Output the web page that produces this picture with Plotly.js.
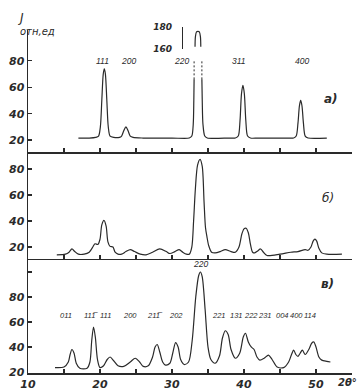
<!DOCTYPE html>
<html>
<head>
<meta charset="utf-8">
<script src="https://cdn.plot.ly/plotly-3.0.1.min.js"></script>
<style>html,body{margin:0;padding:0;background:#fff;}</style>
</head>
<body>
<div id="chart" style="width:364px;height:390px;"></div>
<script>
// ---- Panel a) ----
const aX = [17.0,18.5,19.4,19.8,20.05,20.25,20.45,20.6,20.75,20.95,21.15,21.4,21.9,22.7,23.0,23.3,23.6,23.9,24.2,24.6,26.0,30.0,32.4,32.75,32.95,33.03,33.07,null,34.15,34.2,34.3,34.55,34.9,38.0,38.8,39.2,39.45,39.65,39.85,40.05,40.25,40.5,40.9,42.0,46.5,46.9,47.25,47.5,47.7,47.87,48.05,48.25,48.5,48.9,51.5];
const aY = [21.5,21.5,22,23,30,50,70,74,70,50,30,23,22,22,23,27,30,27,23,22,21.5,21.5,21.5,23,32,50,66,null,66,50,32,23,21.5,21.5,21.5,23,35,55,61.5,55,35,23,21.5,21.5,21.5,21.5,23,33,46,50,46,33,23,21.5,21.5];
const aBreakX = [33.07,33.07,null,34.15,34.15];
const aBreakY = [66,80,null,66,80];
const aTopX = [33.2,33.25,33.4,33.6,33.8,33.95,34.0];
const aTopY = [162,171,175.5,176,175.5,171,162];
const aLabels = ["111","200","220","311","400"];
const aLabelX = [20.3,23.9,31.3,39.3,48.1];
const aLabelY = [80,80,80,80,80];

// ---- Panel б) ----
const bX = [14.0,15.2,15.7,16.1,16.5,17.0,17.8,18.5,19.0,19.3,19.7,20.0,20.25,20.55,20.85,21.1,21.4,21.8,22.1,22.5,23.0,23.6,24.2,24.8,25.6,26.4,27.3,28.3,29.2,29.7,30.4,31.0,31.5,32.0,32.4,32.75,33.0,33.25,33.55,33.9,34.2,34.45,34.65,34.85,35.1,35.5,36.0,36.7,37.4,38.2,38.8,39.3,39.7,40.0,40.3,40.6,40.9,41.2,41.5,41.9,42.3,42.7,43.2,45.0,46.5,47.5,48.5,48.9,49.3,49.6,49.85,50.1,50.4,50.8,51.5,53.6];
const bY = [14,14.5,16,18.5,16.5,14.5,14.5,16,20,22.5,22,26,37,40.5,36,24,20.5,20,16,14.5,14.5,16.5,18,16.5,14.5,14,16,18.5,16.5,15,16.5,18,16,14.5,14.5,20,40,65,83,87.5,82,55,35,28,21,16,15.5,16.5,18,16.5,16,20,30,34,34.5,31,22,16,15.5,17,18.5,16,13.5,14.5,16,16.5,18,17.5,20,24.5,26,24.5,19,15.5,14.5,14.5];

// ---- Panel в) ----
const cX = [13.75,15.0,15.6,15.85,16.1,16.4,16.7,17.2,18.2,18.6,18.85,19.1,19.35,19.65,20.0,20.5,21.0,21.4,21.9,22.5,23.3,24.2,24.9,25.5,26.0,26.7,27.3,27.65,27.95,28.3,28.7,29.1,29.7,30.1,30.5,30.85,31.2,31.7,32.3,32.8,33.3,33.7,33.95,34.2,34.6,35.0,35.4,36.0,36.6,37.0,37.4,37.8,38.2,38.8,39.4,39.9,40.2,40.6,41.0,41.4,41.8,42.2,42.8,43.4,43.9,44.6,45.5,46.2,46.6,46.9,47.2,47.5,47.8,48.1,48.5,49.0,49.4,49.7,50.0,50.4,50.8,51.5,52.0];
const cY = [23.5,24,28,34,38,35,27,23,23,28,45,56,48,30,23.5,25,30,32,29,25,24.5,28,31,28,24.5,25,32,40,42,36,28,25.5,27,35,43.5,40,30,26,28,45,80,97,100,96,70,40,30,27,33,47,53,50,38,31,35,48,51,44,40,38,32,29.5,31,33.5,30,24,23.5,28,34,37.5,34,32.5,35,37.5,34,38,43,44,40,32,29.5,28.5,28];
const cLabels = ["011","111\u0305","111","200","211\u0305","202","220","221","131","222","231","004","400","114"];
const cLabelX = [15.3,18.8,20.8,24.2,27.6,30.6,33.9,36.5,39.0,41.0,42.9,45.3,47.3,49.2];
const cLabelY = [65,65,65,65,65,65,106,65,65,65,65,65,65,65];

const xTicks = [10,15,20,25,30,35,40,45,50];
const xTickText = ["10","","20","","30","","40","","50"];
const yTicks = [20,40,60,80];
const yTicksC = [20,40,60,80,100];
const yTickTextC = ["20","40","60","80",""];

const INK = "#2a2a2a";
const lineStyle = {color: INK, width: 1.2, shape: "spline", smoothing: 0.8};

const traces = [
  {x: aX, y: aY, xaxis: "x3", yaxis: "y3", mode: "lines", line: lineStyle, hoverinfo: "skip"},
  {x: aBreakX, y: aBreakY, xaxis: "x3", yaxis: "y3", mode: "lines", line: {color: INK, width: 1, dash: "2px,2px"}, hoverinfo: "skip"},
  {x: aTopX, y: aTopY, xaxis: "x3", yaxis: "y4", mode: "lines", line: lineStyle, hoverinfo: "skip"},
  {x: bX, y: bY, xaxis: "x2", yaxis: "y2", mode: "lines", line: lineStyle, hoverinfo: "skip"},
  {x: cX, y: cY, xaxis: "x", yaxis: "y", mode: "lines", line: lineStyle, hoverinfo: "skip"}
];

const tickFont = {family: "DejaVu Sans", size: 11, color: INK, weight: "bold", style: "italic"};
const labFont = {family: "Liberation Sans", size: 8.5, color: INK, style: "italic"};
const labFontC = {family: "Liberation Sans", size: 7.5, color: INK, style: "italic"};

function xAxis(anchor, labels) {
  return {
    domain: [0, 1], anchor: anchor, range: [10, 55],
    showline: true, linecolor: INK, linewidth: 1.5,
    ticks: "inside", ticklen: 4, tickcolor: INK, tickwidth: 1.2,
    tickmode: "array", tickvals: labels ? xTicks : xTicks.slice(1),
    ticktext: labels ? xTickText : xTicks.slice(1).map(() => " "),
    showticklabels: labels, tickfont: tickFont,
    showgrid: false, zeroline: false, fixedrange: true
  };
}
function yAxis(anchor, domain, range, tv, tt) {
  return {
    domain: domain, anchor: anchor, range: range,
    showline: true, linecolor: INK, linewidth: 1.5,
    ticks: "inside", ticklen: 4, tickcolor: INK, tickwidth: 1.2,
    tickmode: "array", tickvals: tv, ticktext: tt || tv.map(String),
    tickfont: tickFont, showgrid: false, zeroline: false, fixedrange: true
  };
}

const annotations = [];
aLabels.forEach((t, i) => annotations.push({xref: "x3", yref: "y3", x: aLabelX[i], y: aLabelY[i], text: t, showarrow: false, font: labFont}));
cLabels.forEach((t, i) => annotations.push({xref: "x", yref: "y", x: cLabelX[i], y: cLabelY[i], text: t, showarrow: false, font: i === 6 ? labFont : labFontC}));
annotations.push(
  {xref: "paper", yref: "paper", x: 0.963, y: 0.802, text: "а)", showarrow: false, font: {family: "DejaVu Sans", size: 12, color: INK, style: "italic", weight: "bold"}},
  {xref: "paper", yref: "paper", x: 0.95, y: 0.496, text: "б)", showarrow: false, font: {family: "DejaVu Sans", size: 12, color: INK, style: "italic"}},
  {xref: "paper", yref: "paper", x: 0.95, y: 0.227, text: "в)", showarrow: false, font: {family: "DejaVu Sans", size: 12, color: INK, style: "italic", weight: "bold"}},
  {xref: "paper", yref: "paper", x: -0.037, y: 1.03, text: "J", showarrow: false, font: {family: "DejaVu Sans", size: 12, color: INK, style: "italic"}},
  {xref: "paper", yref: "paper", x: -0.03, y: 0.99, text: "отн,ед", showarrow: false, font: {family: "DejaVu Sans", size: 10, color: INK, style: "italic"}},
  {xref: "paper", yref: "paper", x: 0.95, xanchor: "left", y: -0.026, yanchor: "middle", text: "2θ°", showarrow: false, font: {family: "DejaVu Sans", size: 10, color: INK, style: "italic", weight: "bold"}}
);

const layout = {
  width: 364, height: 390,
  margin: {l: 28, r: 12, t: 20, b: 17},
  paper_bgcolor: "#fff", plot_bgcolor: "rgba(0,0,0,0)",
  showlegend: false,
  xaxis: xAxis("y", true),
  xaxis2: xAxis("y2", false),
  xaxis3: xAxis("y3", false),
  yaxis: yAxis("x", [0, 0.323], [19.2, 110.4], yTicksC, yTickTextC),
  yaxis2: yAxis("x2", [0.323, 0.626], [10.8, 93.1], yTicks),
  yaxis3: yAxis("x3", [0.626, 0.972], [10.9, 103.5], yTicks),
  yaxis4: {
    domain: [0.918, 0.980], anchor: "free", position: 0.475, range: [160, 180],
    showline: true, linecolor: INK, linewidth: 1.3,
    ticks: "inside", ticklen: 4, tickcolor: INK, tickwidth: 1.3,
    tickmode: "array", tickvals: [160, 180], ticktext: ["160", "180"],
    ticklabelstandoff: 8,
    tickfont: {family: "DejaVu Sans", size: 9, color: INK, style: "italic", weight: "bold"},
    showgrid: false, zeroline: false, fixedrange: true
  },
  annotations: annotations
};

Plotly.newPlot("chart", traces, layout, {displayModeBar: false, staticPlot: true});
</script>
</body>
</html>
